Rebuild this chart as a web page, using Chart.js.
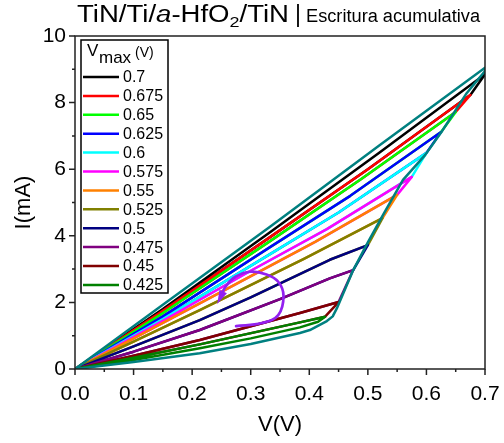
<!DOCTYPE html>
<html>
<head>
<meta charset="utf-8">
<script src="https://cdn.jsdelivr.net/npm/chart.js@4/dist/chart.umd.min.js"></script>
<style>
  html, body { margin: 0; padding: 0; background: #fff; }
</style>
</head>
<body>
<canvas id="grafico" width="504" height="443"></canvas>
<script>
// etiquetas y colores (orden de la leyenda)
const etiquetas = ['0.7', '0.675', '0.65', '0.625', '0.6', '0.575', '0.55', '0.525', '0.5', '0.475', '0.45', '0.425'];
const colores = ['#000000', '#ff0000', '#00ff00', '#0000ff', '#00ffff', '#ff00ff', '#ff8000', '#808000', '#000080', '#800080', '#800000', '#008000'];

// barrido de ida del primer ciclo (0.425 V)
const vIda425 = [0, 0.1, 0.213, 0.3, 0.384, 0.415];
const iIda425 = [0, 0.27, 0.62, 0.92, 1.25, 1.42];

// barridos de vuelta (desde Vmax hasta 0)
const v700 = [0.7, 0.52, 0.333, 0.15, 0];    const i700 = [8.85, 6.5, 4.11, 1.8, 0];
const v675 = [0.675, 0.5, 0.333, 0.15, 0];   const i675 = [8.23, 6.0, 3.96, 1.75, 0];
const v650 = [0.65, 0.49, 0.333, 0.15, 0];   const i650 = [7.72, 5.72, 3.84, 1.68, 0];
const v625 = [0.625, 0.47, 0.333, 0.15, 0];  const i625 = [7.12, 5.2, 3.66, 1.58, 0];
const v600 = [0.6, 0.45, 0.333, 0.15, 0];    const i600 = [6.49, 4.7, 3.45, 1.5, 0];
const v575 = [0.575, 0.43, 0.3, 0.15, 0];    const i575 = [5.77, 4.2, 2.95, 1.45, 0];
const v550 = [0.55, 0.41, 0.213, 0.1, 0];    const i550 = [5.23, 3.82, 1.97, 0.92, 0];
const v525 = [0.525, 0.39, 0.213, 0.1, 0];   const i525 = [4.53, 3.3, 1.77, 0.82, 0];
const v500 = [0.5, 0.435, 0.3, 0.213, 0.1, 0]; const i500 = [3.72, 3.28, 2.15, 1.47, 0.68, 0];
const v475 = [0.475, 0.435, 0.35, 0.213, 0.1, 0]; const i475 = [2.97, 2.72, 2.1, 1.17, 0.52, 0];
const v450 = [0.45, 0.384, 0.213, 0.1, 0];   const i450 = [2.01, 1.68, 0.87, 0.4, 0];
const v425 = [0.427, 0.384, 0.213, 0.1, 0];  const i425 = [1.57, 1.4, 0.74, 0.34, 0];

// curva envolvente (cian oscuro)
const vEnv = [0, 0.1, 0.213, 0.3, 0.384, 0.401, 0.43, 0.44, 0.447, 0.475, 0.5, 0.525, 0.56, 0.598, 0.625, 0.669, 0.7, 0.7, 0.52, 0.333, 0.15, 0];
const iEnv = [0, 0.21, 0.47, 0.75, 1.08, 1.17, 1.44, 1.58, 1.82, 2.97, 3.8, 4.6, 5.68, 6.43, 7.1, 8.29, 8.95, 9.05, 6.72, 4.27, 1.93, 0];

// flecha curva
const vFlecha = [0.275, 0.319, 0.347, 0.356, 0.347, 0.327, 0.299, 0.274, 0.257, 0.248];
const iFlecha = [1.29, 1.38, 1.62, 2.2, 2.62, 2.84, 2.92, 2.77, 2.47, 2.14];

const vueltasV = [v700, v675, v650, v625, v600, v575, v550, v525, v500, v475, v450, v425];
const vueltasI = [i700, i675, i650, i625, i600, i575, i550, i525, i500, i475, i450, i425];

const puntos = (vs, is) => vs.map((v, k) => ({ x: v, y: is[k] }));

function armarCiclos() {
  const sets = [];
  // de 0.425 hacia 0.7: cada ida sigue la vuelta del ciclo anterior
  for (let n = vueltasV.length - 1; n >= 0; n--) {
    let ida;
    if (n === vueltasV.length - 1) {
      ida = puntos(vIda425, iIda425);
    } else {
      ida = puntos(vueltasV[n + 1], vueltasI[n + 1]).reverse();
    }
    const vuelta = puntos(vueltasV[n], vueltasI[n]);
    sets.push({
      data: ida.concat(vuelta),
      borderColor: colores[n],
      borderWidth: 2.5
    });
  }
  return sets;
}

const datasets = [
  { data: puntos(vEnv, iEnv), borderColor: '#008080', borderWidth: 2.5 },
  { data: puntos(vFlecha, iFlecha), borderColor: '#9320f0', borderWidth: 2.7, tension: 0.4 }
].concat(armarCiclos());

const fuente = "'Liberation Sans', Arial, sans-serif";

// dibuja trozos de texto seguidos, estirados a un ancho dado
function textoEstirado(ctx, partes, x0, y0, ancho) {
  let w = 0;
  partes.forEach(p => { ctx.font = p.f; w += ctx.measureText(p.t).width; });
  const s = ancho ? ancho / w : 1;
  ctx.save();
  ctx.translate(x0, y0);
  ctx.scale(s, 1);
  let x = 0;
  partes.forEach(p => {
    ctx.font = p.f;
    ctx.fillText(p.t, x, p.dy || 0);
    x += ctx.measureText(p.t).width;
  });
  ctx.restore();
}

const decorado = {
  id: 'decorado',
  afterDatasetsDraw(chart) {
    const ctx = chart.ctx;
    const a = chart.chartArea;
    const sx = chart.scales.x, sy = chart.scales.y;
    ctx.save();
    // marco
    ctx.strokeStyle = '#222';
    ctx.lineWidth = 1.5;
    ctx.strokeRect(a.left, a.top, a.right - a.left, a.bottom - a.top);
    // marcas de eje
    ctx.beginPath();
    for (let k = 0; k <= 14; k++) {
      const px = sx.getPixelForValue(k * 0.05);
      const l = k % 2 === 0 ? 6 : 3;
      ctx.moveTo(px, a.bottom); ctx.lineTo(px, a.bottom + l);
    }
    for (let k = 0; k <= 10; k++) {
      const py = sy.getPixelForValue(k);
      const l = k % 2 === 0 ? 6 : 3;
      ctx.moveTo(a.left, py); ctx.lineTo(a.left - l, py);
    }
    ctx.stroke();

    // punta de la flecha
    const pts = chart.getDatasetMeta(1).data;
    const p1 = pts[pts.length - 2], p2 = pts[pts.length - 1];
    const ang = Math.atan2(p2.y - p1.y, p2.x - p1.x);
    ctx.fillStyle = '#9320f0';
    ctx.beginPath();
    ctx.moveTo(p2.x + Math.cos(ang) * 7, p2.y + Math.sin(ang) * 7);
    ctx.lineTo(p2.x + Math.cos(ang + 2.6) * 8, p2.y + Math.sin(ang + 2.6) * 8);
    ctx.lineTo(p2.x + Math.cos(ang - 2.6) * 8, p2.y + Math.sin(ang - 2.6) * 8);
    ctx.closePath();
    ctx.fill();

    // leyenda
    ctx.fillStyle = '#fff';
    ctx.fillRect(81, 40, 87, 253);
    ctx.strokeStyle = '#000';
    ctx.lineWidth = 1.5;
    ctx.strokeRect(81, 40, 87, 253);
    ctx.fillStyle = '#000';
    ctx.textBaseline = 'alphabetic';
    ctx.textAlign = 'left';
    ctx.font = '17px ' + fuente;
    ctx.fillText('V', 87, 56);
    ctx.fillText('max', 99, 63);
    ctx.font = '14px ' + fuente;
    ctx.fillText('(V)', 135, 57);
    ctx.font = '16px ' + fuente;
    ctx.textBaseline = 'middle';
    etiquetas.forEach((t, k) => {
      const y = 77 + k * 18.9;
      ctx.strokeStyle = colores[k];
      ctx.lineWidth = 2.5;
      ctx.beginPath();
      ctx.moveTo(83, y); ctx.lineTo(119, y);
      ctx.stroke();
      ctx.fillText(t, 123, y + 1);
    });

    // titulos de ejes
    ctx.textAlign = 'center';
    ctx.font = '22px ' + fuente;
    ctx.fillText('V(V)', (a.left + a.right) / 2, 425);
    ctx.save();
    ctx.translate(24, (a.top + a.bottom) / 2);
    ctx.rotate(-Math.PI / 2);
    ctx.fillText('I(mA)', 0, 0);
    ctx.restore();

    // titulo
    ctx.textAlign = 'left';
    ctx.textBaseline = 'alphabetic';
    const grande = '23px ' + fuente;
    textoEstirado(ctx, [
      { t: 'TiN/Ti/', f: grande },
      { t: 'a', f: 'italic ' + grande },
      { t: '-HfO', f: grande },
      { t: '2', f: '15px ' + fuente, dy: 5 },
      { t: '/TiN', f: grande }
    ], 77, 22, 212);
    ctx.font = grande;
    ctx.fillText('|', 295, 22);
    textoEstirado(ctx, [{ t: 'Escritura acumulativa', f: '18px ' + fuente }], 306, 22, 174);
    ctx.restore();
  }
};

const sinRelleno = s => { s.paddingLeft = 0; s.paddingRight = 0; s.paddingTop = 0; s.paddingBottom = 0; };

new Chart(document.getElementById('grafico'), {
  type: 'scatter',
  data: { datasets: datasets },
  options: {
    responsive: false,
    animation: false,
    showLine: true,
    layout: { padding: { top: 36, right: 19, left: 0, bottom: 0 } },
    elements: {
      point: { radius: 0, hoverRadius: 0 },
      line: { borderJoinStyle: 'round', borderCapStyle: 'round', fill: false }
    },
    plugins: {
      legend: { display: false },
      tooltip: { enabled: false }
    },
    scales: {
      x: {
        type: 'linear', min: 0, max: 0.7,
        afterFit: s => { s.height = 74; sinRelleno(s); },
        grid: { display: false, drawTicks: false },
        border: { display: false },
        ticks: {
          stepSize: 0.05, padding: 13, maxRotation: 0, autoSkip: false,
          color: '#000', font: { family: fuente, size: 21 },
          callback: (v, k) => k % 2 === 0 ? v.toFixed(1) : ''
        }
      },
      y: {
        type: 'linear', min: 0, max: 10,
        afterFit: s => { s.width = 75; sinRelleno(s); },
        grid: { display: false, drawTicks: false },
        border: { display: false },
        ticks: {
          stepSize: 1, padding: 9, autoSkip: false,
          color: '#000', font: { family: fuente, size: 21 },
          callback: (v, k) => k % 2 === 0 ? String(v) : ''
        }
      }
    }
  },
  plugins: [decorado]
});
</script>
</body>
</html>
